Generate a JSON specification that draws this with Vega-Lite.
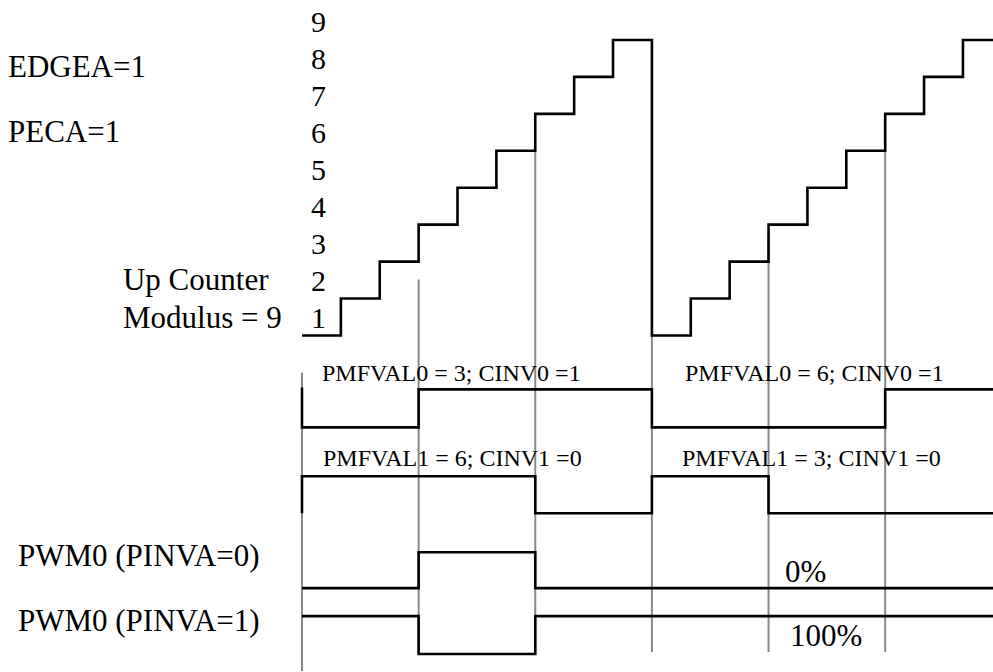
{
  "$schema": "https://vega.github.io/schema/vega-lite/v6.json",
  "width": 993,
  "height": 672,
  "autosize": {"type": "fit", "contains": "padding"},
  "padding": 0,
  "background": "white",
  "config": {"view": {"stroke": null}},
  "datasets": {
    "counter": [
      {"t": 0, "v": 1}, {"t": 1, "v": 2}, {"t": 2, "v": 3}, {"t": 3, "v": 4}, {"t": 4, "v": 5},
      {"t": 5, "v": 6}, {"t": 6, "v": 7}, {"t": 7, "v": 8}, {"t": 8, "v": 9},
      {"t": 9, "v": 1}, {"t": 10, "v": 2}, {"t": 11, "v": 3}, {"t": 12, "v": 4}, {"t": 13, "v": 5},
      {"t": 14, "v": 6}, {"t": 15, "v": 7}, {"t": 16, "v": 8}, {"t": 17, "v": 9}, {"t": 17.8, "v": 9}
    ],
    "waves": [
      {"signal": "CINV0", "i": 0, "t": 0, "v": -0.405},
      {"signal": "CINV0", "i": 1, "t": 0, "v": -1.486},
      {"signal": "CINV0", "i": 2, "t": 3, "v": -0.459},
      {"signal": "CINV0", "i": 3, "t": 9, "v": -1.486},
      {"signal": "CINV0", "i": 4, "t": 15, "v": -0.459},
      {"signal": "CINV0", "i": 5, "t": 17.8, "v": -0.459},
      {"signal": "CINV1", "i": 0, "t": 0, "v": -3.811},
      {"signal": "CINV1", "i": 1, "t": 0, "v": -2.811},
      {"signal": "CINV1", "i": 2, "t": 6, "v": -3.811},
      {"signal": "CINV1", "i": 3, "t": 9, "v": -2.811},
      {"signal": "CINV1", "i": 4, "t": 12, "v": -3.811},
      {"signal": "CINV1", "i": 5, "t": 17.8, "v": -3.811},
      {"signal": "PWM0A", "i": 0, "t": 0, "v": -5.838},
      {"signal": "PWM0A", "i": 1, "t": 3, "v": -4.865},
      {"signal": "PWM0A", "i": 2, "t": 6, "v": -5.838},
      {"signal": "PWM0A", "i": 3, "t": 17.8, "v": -5.838},
      {"signal": "PWM0B", "i": 0, "t": 0, "v": -6.595},
      {"signal": "PWM0B", "i": 1, "t": 3, "v": -7.622},
      {"signal": "PWM0B", "i": 2, "t": 6, "v": -6.595},
      {"signal": "PWM0B", "i": 3, "t": 17.8, "v": -6.595}
    ],
    "grid": [
      {"t": 0, "v": 0, "v2": -8.081},
      {"t": 3, "v": 2.514, "v2": -7.622},
      {"t": 6, "v": 6, "v2": -7.568},
      {"t": 9, "v": 1, "v2": -7.568},
      {"t": 12, "v": 3.73, "v2": -7.568},
      {"t": 15, "v": 6, "v2": -7.568}
    ],
    "numbers": [
      {"t": 0.424, "v": 1, "label": "1"}, {"t": 0.424, "v": 2, "label": "2"},
      {"t": 0.424, "v": 3, "label": "3"}, {"t": 0.424, "v": 4, "label": "4"},
      {"t": 0.424, "v": 5, "label": "5"}, {"t": 0.424, "v": 6, "label": "6"},
      {"t": 0.424, "v": 7, "label": "7"}, {"t": 0.424, "v": 8, "label": "8"},
      {"t": 0.424, "v": 9, "label": "9"}
    ],
    "bigLabels": [
      {"t": -7.562, "v": 8.0, "label": "EDGEA=1"},
      {"t": -7.562, "v": 6.243, "label": "PECA=1"},
      {"t": -4.604, "v": 2.243, "label": "Up Counter"},
      {"t": -4.604, "v": 1.216, "label": "Modulus = 9"},
      {"t": -7.305, "v": -5.243, "label": "PWM0 (PINVA=0)"},
      {"t": -7.305, "v": -7.0, "label": "PWM0 (PINVA=1)"},
      {"t": 12.423, "v": -5.676, "label": "0%"},
      {"t": 12.551, "v": -7.405, "label": "100%"}
    ],
    "smallLabels": [
      {"t": 0.514, "v": -0.243, "label": "PMFVAL0 = 3; CINV0 =1"},
      {"t": 0.54, "v": -2.541, "label": "PMFVAL1 = 6; CINV1 =0"},
      {"t": 9.851, "v": -0.243, "label": "PMFVAL0 = 6; CINV0 =1"},
      {"t": 9.774, "v": -2.541, "label": "PMFVAL1 = 3; CINV1 =0"}
    ]
  },
  "layer": [
    {
      "data": {"name": "grid"},
      "mark": {"type": "rule", "color": "#888888", "strokeWidth": 2},
      "encoding": {
        "x": {"field": "t", "type": "quantitative", "scale": {"domain": [-7.767, 17.773], "nice": false, "zero": false}, "axis": null},
        "y": {"field": "v", "type": "quantitative", "scale": {"domain": [-8.081, 10.081], "nice": false, "zero": false}, "axis": null},
        "y2": {"field": "v2"}
      }
    },
    {
      "data": {"name": "counter"},
      "mark": {"type": "line", "interpolate": "step-after", "color": "black", "strokeWidth": 2.6, "strokeJoin": "miter", "clip": true},
      "encoding": {
        "x": {"field": "t", "type": "quantitative", "scale": {"domain": [-7.767, 17.773], "nice": false, "zero": false}, "axis": null},
        "y": {"field": "v", "type": "quantitative", "scale": {"domain": [-8.081, 10.081], "nice": false, "zero": false}, "axis": null}
      }
    },
    {
      "data": {"name": "waves"},
      "mark": {"type": "line", "interpolate": "step-after", "color": "black", "strokeWidth": 2.6, "strokeJoin": "miter", "clip": true},
      "encoding": {
        "x": {"field": "t", "type": "quantitative", "scale": {"domain": [-7.767, 17.773], "nice": false, "zero": false}, "axis": null},
        "y": {"field": "v", "type": "quantitative", "scale": {"domain": [-8.081, 10.081], "nice": false, "zero": false}, "axis": null},
        "detail": {"field": "signal", "type": "nominal"},
        "order": {"field": "i", "type": "quantitative"}
      }
    },
    {
      "data": {"name": "numbers"},
      "mark": {"type": "text", "align": "center", "baseline": "alphabetic", "dy": -8, "font": "Liberation Serif", "fontSize": 30, "color": "black"},
      "encoding": {
        "x": {"field": "t", "type": "quantitative", "scale": {"domain": [-7.767, 17.773], "nice": false, "zero": false}, "axis": null},
        "y": {"field": "v", "type": "quantitative", "scale": {"domain": [-8.081, 10.081], "nice": false, "zero": false}, "axis": null},
        "text": {"field": "label"}
      }
    },
    {
      "data": {"name": "bigLabels"},
      "mark": {"type": "text", "align": "left", "baseline": "alphabetic", "font": "Liberation Serif", "fontSize": 31, "color": "black"},
      "encoding": {
        "x": {"field": "t", "type": "quantitative", "scale": {"domain": [-7.767, 17.773], "nice": false, "zero": false}, "axis": null},
        "y": {"field": "v", "type": "quantitative", "scale": {"domain": [-8.081, 10.081], "nice": false, "zero": false}, "axis": null},
        "text": {"field": "label"}
      }
    },
    {
      "data": {"name": "smallLabels"},
      "mark": {"type": "text", "align": "left", "baseline": "alphabetic", "font": "Liberation Serif", "fontSize": 24, "color": "black"},
      "encoding": {
        "x": {"field": "t", "type": "quantitative", "scale": {"domain": [-7.767, 17.773], "nice": false, "zero": false}, "axis": null},
        "y": {"field": "v", "type": "quantitative", "scale": {"domain": [-8.081, 10.081], "nice": false, "zero": false}, "axis": null},
        "text": {"field": "label"}
      }
    }
  ]
}
